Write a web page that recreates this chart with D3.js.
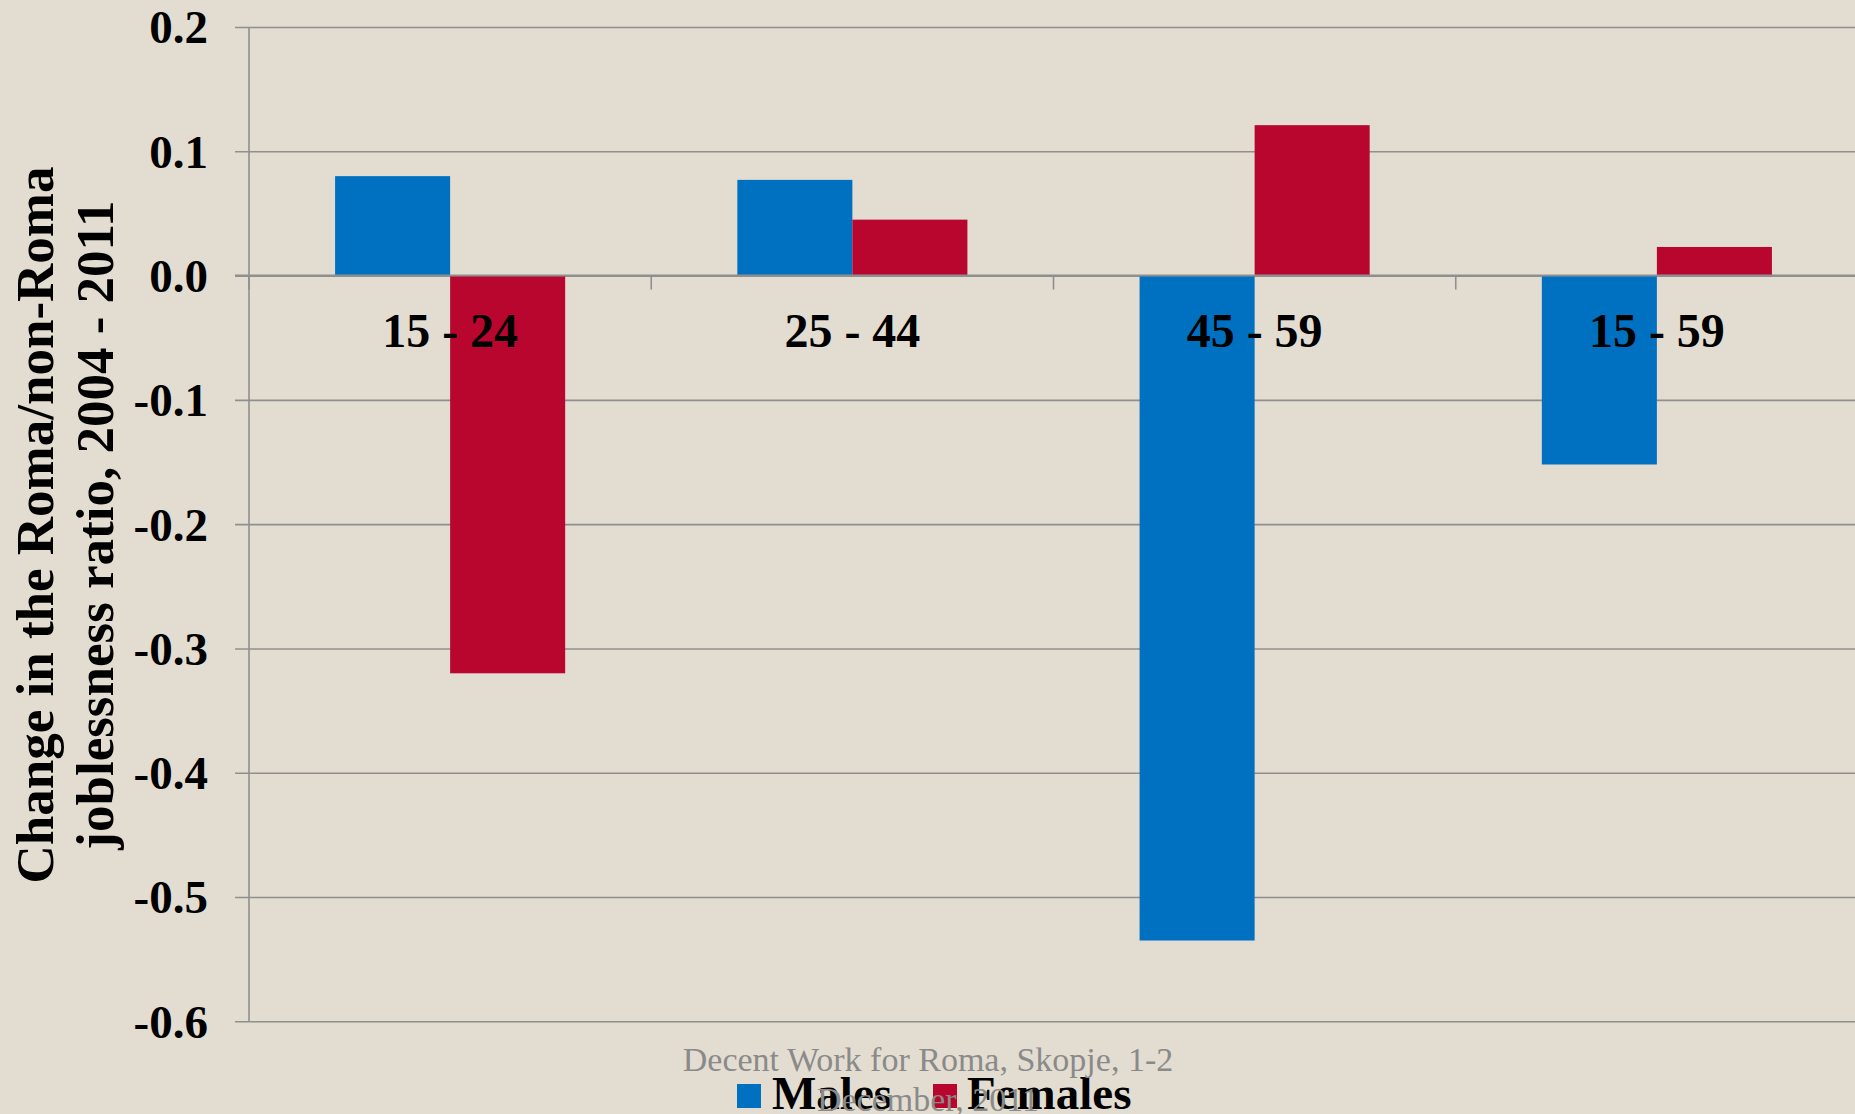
<!DOCTYPE html>
<html>
<head>
<meta charset="utf-8">
<script src="https://cdn.jsdelivr.net/npm/d3@7"></script>
<style>
  html, body { margin: 0; padding: 0; background: #e3ddd1; }
  svg { display: block; }
  text { font-family: "Liberation Serif", "Times New Roman", serif; }
</style>
</head>
<body>
<div id="chart"></div>
<script>
// chart data
const categories = ["15 - 24", "25 - 44", "45 - 59", "15 - 59"];
const series = ["Males", "Females"];
const males = [0.080, 0.077, -0.535, -0.152];
const females = [-0.320, 0.045, 0.121, 0.023];
const yTicks = [0.2, 0.1, 0.0, -0.1, -0.2, -0.3, -0.4, -0.5, -0.6];
const titleLines = ["Change in the Roma/non-Roma", "joblessness ratio, 2004 - 2011"];
const footerLines = ["Decent Work for Roma, Skopje, 1-2", "December, 2011"];

const width = 1855, height = 1114;
const colors = {Males: "#0070c0", Females: "#b8062e"};
const gridColor = "#8f8f8f";

const svg = d3.select("#chart").append("svg")
  .attr("width", width)
  .attr("height", height);

svg.append("rect").attr("width", width).attr("height", height).attr("fill", "#e3ddd1");

const plot = {left: 249, right: 1858, top: 27, bottom: 1021.3};

const y = d3.scaleLinear().domain([-0.6, 0.2]).range([plot.bottom, plot.top]);

// excel style gap width 150%: groups are 230/402 of each category
const x = d3.scaleBand().domain(categories)
  .range([plot.left, plot.right])
  .paddingInner(0.428)
  .paddingOuter(0.214);

const xs = d3.scaleBand().domain(series).range([0, x.bandwidth()]);

// gridlines + y labels through the axis generator
const yAxis = d3.axisLeft(y)
  .tickValues(yTicks)
  .tickSize(-(width - plot.left + 14))
  .tickPadding(0)
  .tickFormat(d => d.toFixed(1));

const ga = svg.append("g")
  .attr("transform", `translate(${plot.left - 14},0)`)
  .call(yAxis);
ga.select(".domain").remove();
ga.selectAll(".tick line").attr("stroke", gridColor).attr("stroke-width", 1.6);
ga.selectAll(".tick text")
  .attr("x", 208 - (plot.left - 14))
  .attr("dy", "0.34em")
  .attr("fill", "#000")
  .style("font-size", "47px")
  .style("font-weight", "bold")
  .style("font-family", "'Liberation Serif', 'Times New Roman', serif");

// vertical axis line
svg.append("line")
  .attr("x1", plot.left).attr("x2", plot.left)
  .attr("y1", y(0.2)).attr("y2", y(-0.6))
  .attr("stroke", gridColor).attr("stroke-width", 1.6);

// bars
const rows = categories.map((c, i) => ({cat: c, Males: males[i], Females: females[i]}));

const groups = svg.append("g").selectAll("g")
  .data(rows)
  .join("g")
  .attr("transform", d => `translate(${x(d.cat)},0)`);

groups.selectAll("rect")
  .data(d => series.map(s => ({key: s, value: d[s]})))
  .join("rect")
  .attr("x", d => xs(d.key))
  .attr("width", xs.bandwidth())
  .attr("y", d => y(Math.max(0, d.value)))
  .attr("height", d => Math.abs(y(d.value) - y(0)))
  .attr("fill", d => colors[d.key]);

// zero line and category ticks over the bars
svg.append("line")
  .attr("x1", plot.left - 14).attr("x2", width)
  .attr("y1", y(0)).attr("y2", y(0))
  .attr("stroke", gridColor).attr("stroke-width", 2);

const bounds = categories.map(c => x(c) - x.step() * x.paddingOuter());
svg.append("g").selectAll("line")
  .data(bounds)
  .join("line")
  .attr("x1", d => d).attr("x2", d => d)
  .attr("y1", y(0)).attr("y2", y(0) + 14)
  .attr("stroke", gridColor).attr("stroke-width", 1.6);

// category labels sit just under the zero line
svg.append("g").selectAll("text")
  .data(categories)
  .join("text")
  .attr("x", d => x(d) + x.bandwidth() / 2)
  .attr("y", y(0) + 71)
  .attr("text-anchor", "middle")
  .style("font-size", "48px")
  .style("font-weight", "bold")
  .text(d => d);

// y title, two rotated lines
svg.append("g")
  .attr("transform", "translate(0,525) rotate(-90)")
  .selectAll("text")
  .data(titleLines)
  .join("text")
  .attr("x", 0)
  .attr("y", (d, i) => 53 + i * 60)
  .attr("text-anchor", "middle")
  .style("font-size", "53px")
  .style("font-weight", "bold")
  .text(d => d);

// legend
const legendItems = [
  {key: "Males", sx: 737, tx: 772},
  {key: "Females", sx: 933, tx: 967}
];
const lg = svg.append("g");
lg.selectAll("rect")
  .data(legendItems)
  .join("rect")
  .attr("x", d => d.sx).attr("y", 1084)
  .attr("width", 24).attr("height", 24)
  .attr("fill", d => colors[d.key]);
lg.selectAll("text")
  .data(legendItems)
  .join("text")
  .attr("x", d => d.tx).attr("y", 1109)
  .style("font-size", "47px")
  .style("font-weight", "bold")
  .text(d => d.key);

// slide footer overlays the legend
svg.append("g").selectAll("text")
  .data(footerLines)
  .join("text")
  .attr("x", 928)
  .attr("y", (d, i) => 1071 + i * 40)
  .attr("text-anchor", "middle")
  .attr("fill", "#8a8a8a")
  .style("font-size", "34px")
  .text(d => d);
</script>
</body>
</html>
